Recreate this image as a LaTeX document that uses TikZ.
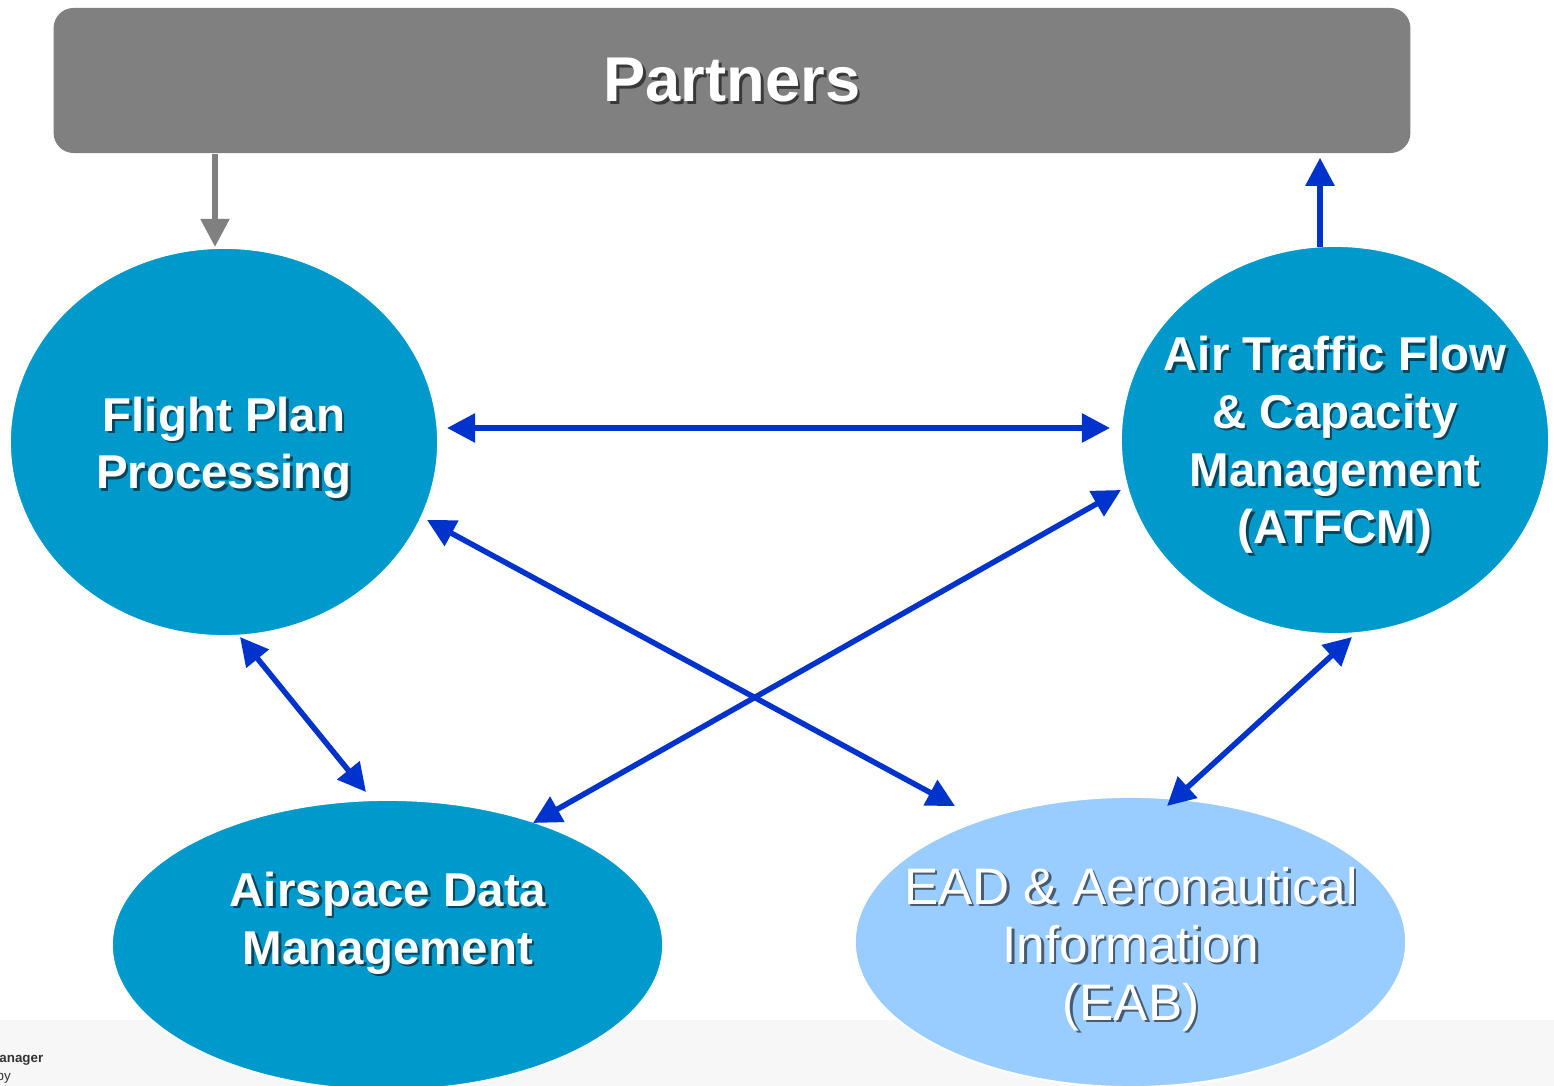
\documentclass[tikz,border=0pt]{standalone}
\usepackage{fontspec}
\setmainfont{Liberation Sans}
\usetikzlibrary{arrows.meta,shapes.geometric}
\definecolor{bubbleblue}{HTML}{0099CC}
\definecolor{eadblue}{HTML}{99CCFF}
\definecolor{linkblue}{HTML}{0033CC}
\definecolor{partnergray}{HTML}{808080}
\definecolor{footgray}{HTML}{F7F7F7}
\definecolor{foottext}{HTML}{333333}
% text with a dark copy behind it: name, position, style, text
\newcommand{\shadelabel}[4]{%
  \node[#3,textshadow] (#1shadow) at ([shift={(2.5,2.5)}]#2) {#4};
  \node[#3] (#1) at (#2) {#4};}
\begin{document}
\begin{tikzpicture}[x=0.01cm,y=-0.01cm,
    >={Triangle[length=0.28cm,width=0.28cm]},
    bubble/.style={ellipse,fill=bubbleblue,draw=white,line width=0.02cm,inner sep=0pt,outer sep=0pt,
      minimum width=4.28cm,minimum height=3.88cm},
    widebubble/.style={bubble,minimum width=5.51cm,minimum height=2.90cm},
    bubbletext/.style={text=white,align=center,inner sep=0pt,font=\fontsize{13.5}{16.4}\selectfont\bfseries},
    eadtext/.style={text=white,align=center,inner sep=0pt,font=\fontsize{14.6}{16.5}\selectfont},
    textshadow/.style={text=black,text opacity=0.55},
    link/.style={draw=linkblue,line width=0.055cm}]
  \useasboundingbox (0,0) rectangle (1554,1086);
  \clip (0,0) rectangle (1554,1086);
  % footer band
  \fill[footgray] (0,1020) rectangle (1554,1086);
  \node[anchor=base east,inner sep=0pt,text=foottext,font=\fontsize{3.8}{4.5}\selectfont\bfseries] (footA) at (44,1063) {anager};
  \node[anchor=base west,inner sep=0pt,text=foottext,font=\fontsize{3.8}{4.5}\selectfont] (footB) at (-4,1081) {by};

  \node[fill=partnergray,rounded corners=0.2cm,inner sep=0pt,minimum width=13.56cm,minimum height=1.45cm] (partners) at (732,80.5) {};
  \shadelabel{partnerstext}{partners.center}{text=white,inner sep=0pt,font=\fontsize{18}{20}\selectfont\bfseries}{Partners}

  \node[bubble] (fpp) at (224,442) {};
  \node[bubble] (atfcm) at (1335,440) {};
  \node[widebubble] (adm) at (387.5,945) {};
  \node[widebubble,fill=eadblue] (ead) at (1130.5,942) {};

  \shadelabel{fpptext}{224,448}{bubbletext}{Flight Plan\\Processing}
  \shadelabel{atfcmtext}{1335,445}{bubbletext}{Air Traffic Flow\\\& Capacity\\Management\\(ATFCM)}
  \shadelabel{admtext}{388,923}{bubbletext}{Airspace Data\\Management}
  \shadelabel{eadtext}{1131,949}{eadtext}{EAD \& Aeronautical\\Information\\(EAB)}

  \coordinate (downfoot) at ([shift={(-9,-1)}]fpp.north);
  \coordinate (upfoot) at ([shift={(-15,1)}]atfcm.north);
  \draw[partnergray,line width=0.055cm,->] (partners.south -| downfoot) -- (downfoot);
  \draw[link,->,shorten >=0.04cm] (upfoot) -- (partners.south -| upfoot);

  \draw[link,<->] ([shift={(223,-14)}]fpp.center) -- ([shift={(-225,-12)}]atfcm.center);
  \draw[link,<->] ([shift={(203,78)}]fpp.center) -- ([shift={(-175.5,-136)}]ead.center);
  \draw[link,<->] ([shift={(-214,50)}]atfcm.center) -- ([shift={(145.5,-122)}]adm.center);
  \draw[link,<->] ([shift={(16,195)}]fpp.center) -- ([shift={(-21.5,-153)}]adm.center);
  \draw[link,<->] ([shift={(17,197)}]atfcm.center) -- ([shift={(36.5,-136)}]ead.center);
\end{tikzpicture}
\end{document}
